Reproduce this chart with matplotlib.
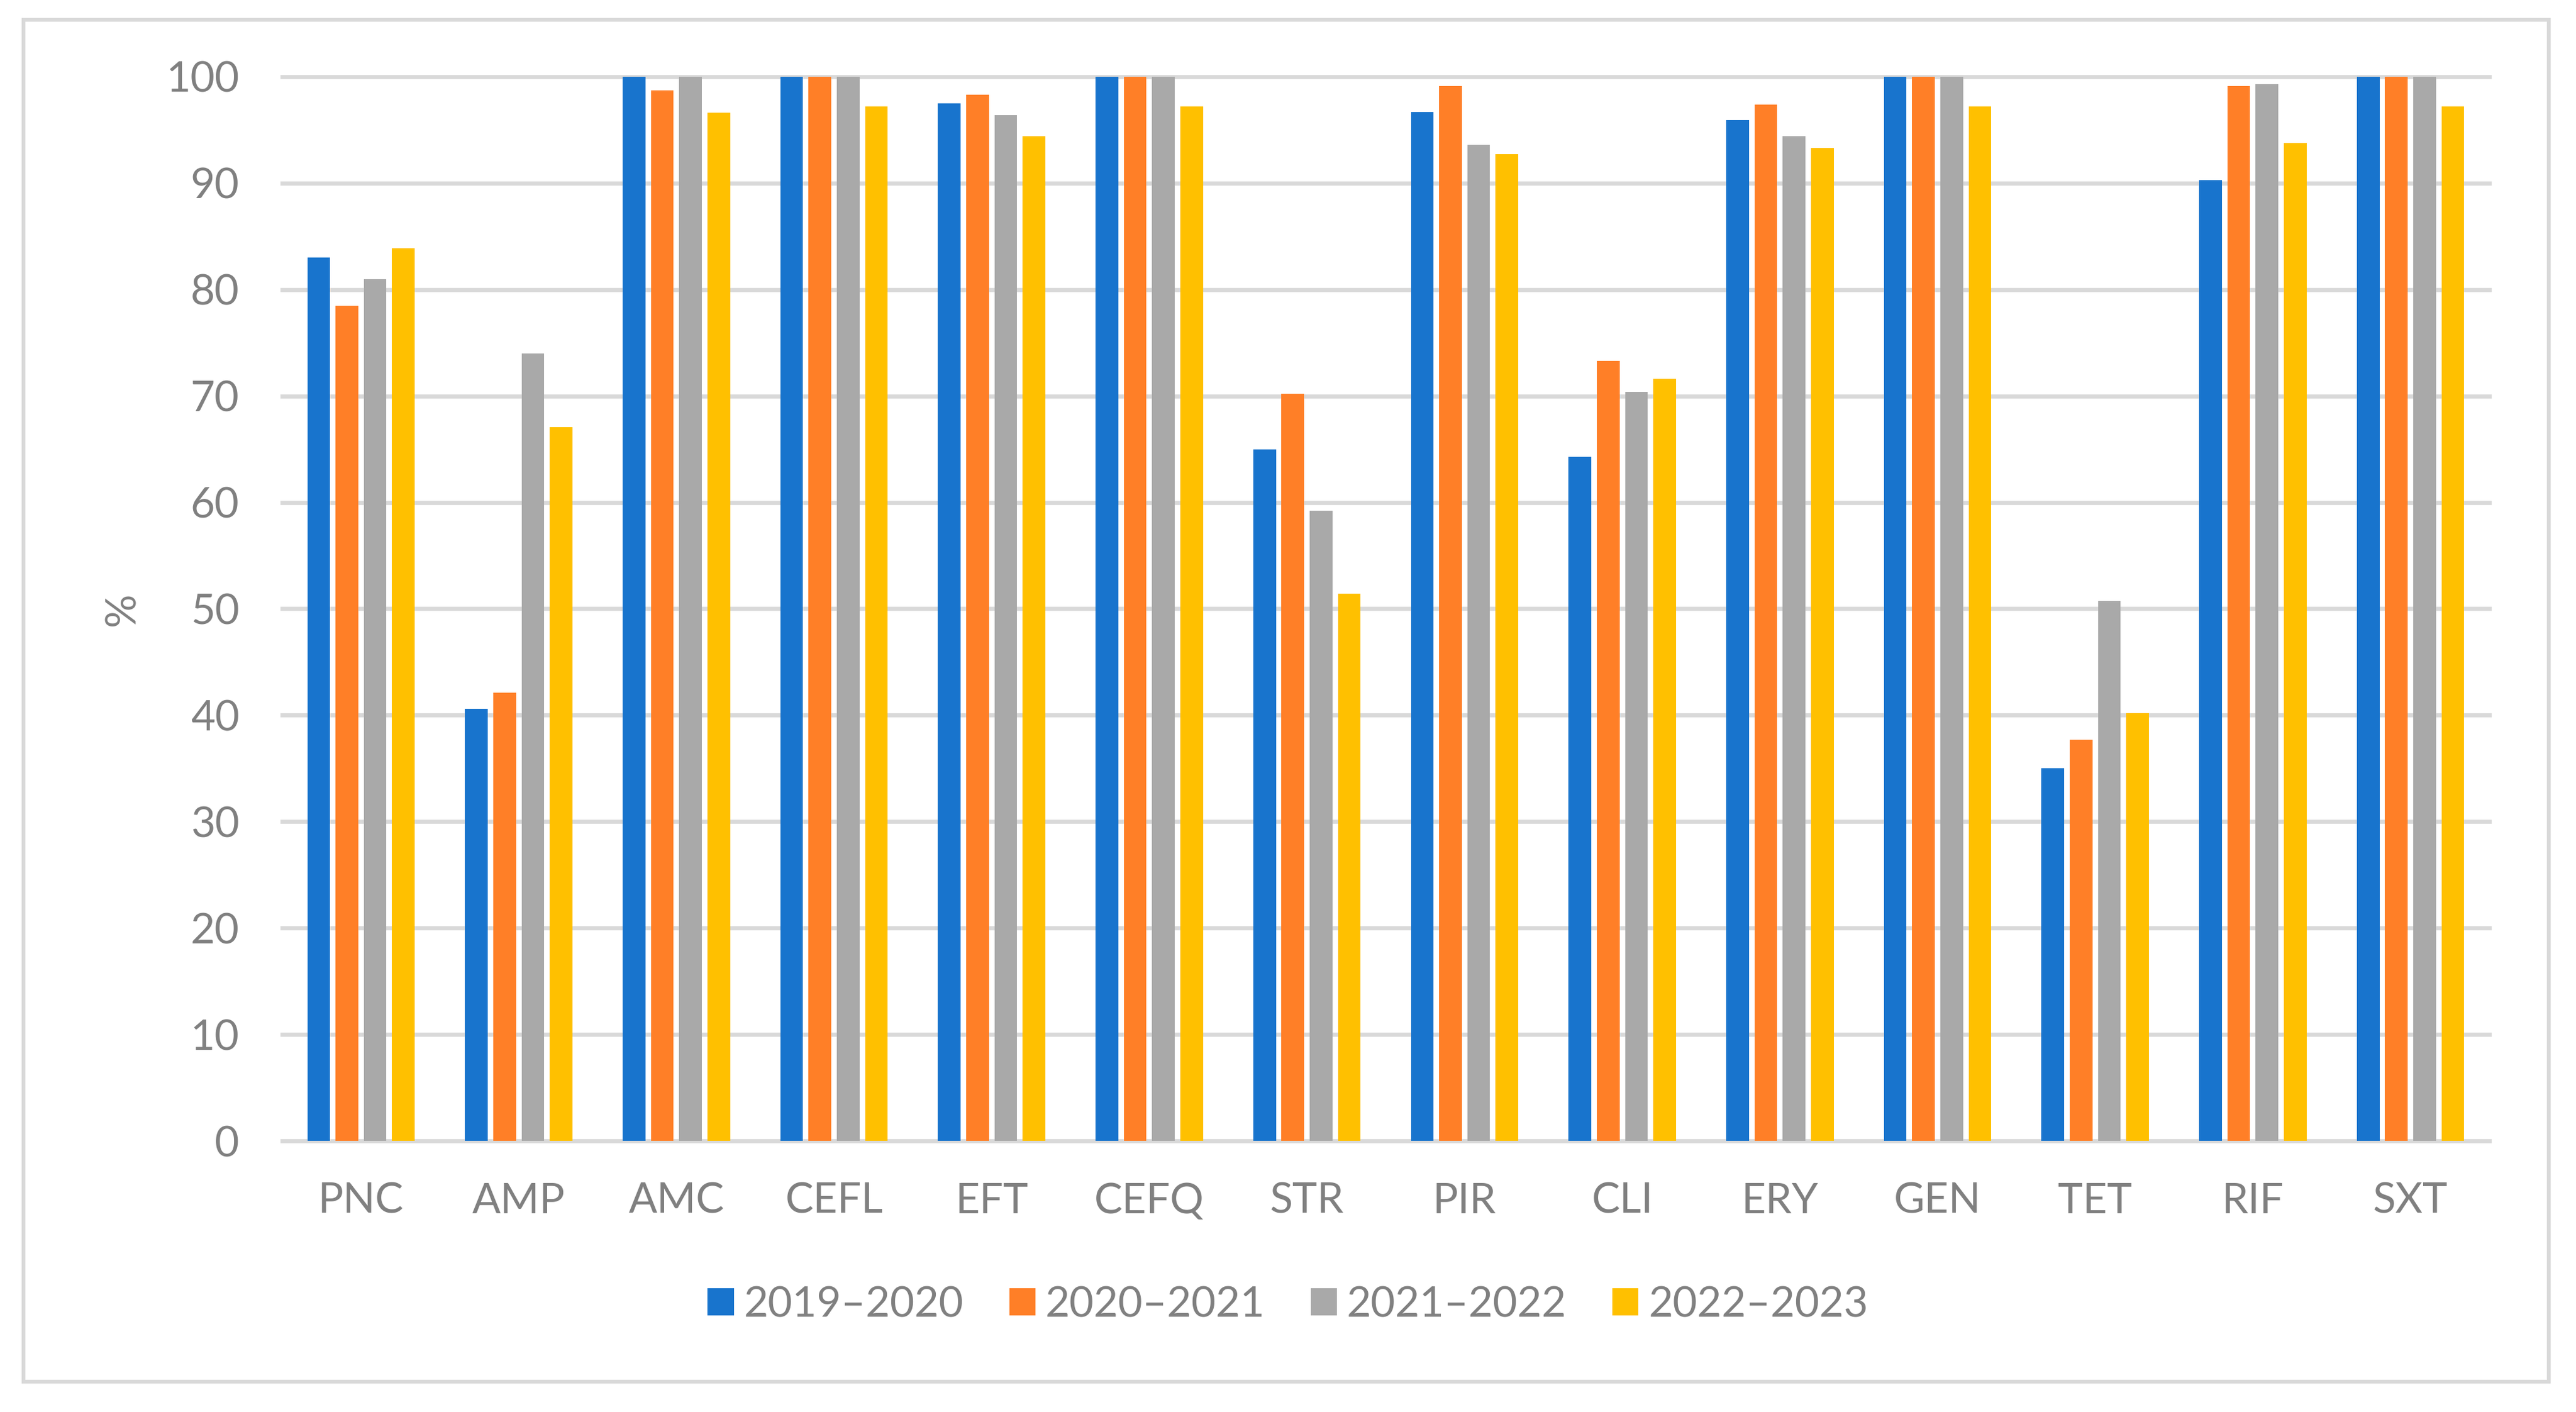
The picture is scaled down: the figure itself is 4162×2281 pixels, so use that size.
import numpy as np
import matplotlib
matplotlib.use("Agg")
import matplotlib.pyplot as plt
from matplotlib.patches import Rectangle

plt.rcParams['font.family'] = ['Lato', 'DejaVu Sans']

# antibiotic codes on the x axis
categories = ["PNC", "AMP", "AMC", "CEFL", "EFT", "CEFQ", "STR",
              "PIR", "CLI", "ERY", "GEN", "TET", "RIF", "SXT"]

# % values, one list per season
s_2019_2020 = [83.0, 40.6, 100, 100, 97.5, 100, 65.0, 96.7, 64.3, 95.9, 100, 35.0, 90.3, 100]
s_2020_2021 = [78.5, 42.1, 98.7, 100, 98.3, 100, 70.2, 99.1, 73.3, 97.4, 100, 37.7, 99.1, 100]
s_2021_2022 = [81.0, 74.0, 100, 100, 96.4, 100, 59.2, 93.6, 70.4, 94.4, 100, 50.7, 99.3, 100]
s_2022_2023 = [83.9, 67.1, 96.6, 97.2, 94.4, 97.2, 51.4, 92.7, 71.6, 93.3, 97.2, 40.2, 93.8, 97.2]

series = [s_2019_2020, s_2020_2021, s_2021_2022, s_2022_2023]
labels = ["2019–2020", "2020–2021", "2021–2022", "2022–2023"]
colors = ["#1874CD", "#FF7F27", "#A9A9A9", "#FFC000"]

text_col = "#808080"
grid_col = "#D9D9D9"
fs = 24.5

fig = plt.figure(figsize=(20.81, 11.405), dpi=200)
ax = fig.add_axes([0.10956, 0.19202, 0.8568, 0.75362])

x = np.arange(len(categories))
bar_w = 0.144
pitch = 0.179
for i, (vals, lab, col) in enumerate(zip(series, labels, colors)):
    ax.bar(x + (i - 1.5) * pitch, vals, width=bar_w, color=col, label=lab, zorder=2)

ax.set_xlim(-0.5, len(categories) - 0.5)
ax.set_ylim(0, 100)
ax.set_yticks(np.arange(0, 101, 10))
ax.set_xticks(x)
ax.set_xticklabels(categories)

ax.set_axisbelow(True)
ax.grid(axis='y', color=grid_col, linewidth=2.4)
for gl in ax.get_ygridlines():
    gl.set_clip_on(False)
for sp in ax.spines.values():
    sp.set_visible(False)

ax.tick_params(axis='both', length=0, labelsize=fs, labelcolor=text_col)
ax.tick_params(axis='y', pad=25)
ax.tick_params(axis='x', pad=24)

ax.set_ylabel("%", fontsize=fs, color=text_col, labelpad=14)

leg = fig.legend(loc='center', bbox_to_anchor=(0.5, 0.0758), ncol=4, frameon=False,
                 fontsize=fs, handlelength=0.62, handleheight=0.62,
                 handletextpad=0.24, columnspacing=1.08)
for t in leg.get_texts():
    t.set_color(text_col)

# outer chart border
fig.patches.append(Rectangle((0.0091, 0.0215), 0.9803, 0.9645, transform=fig.transFigure,
                             fill=False, edgecolor=grid_col, linewidth=2.2))

fig.savefig("out.png", dpi=200, facecolor="white")
